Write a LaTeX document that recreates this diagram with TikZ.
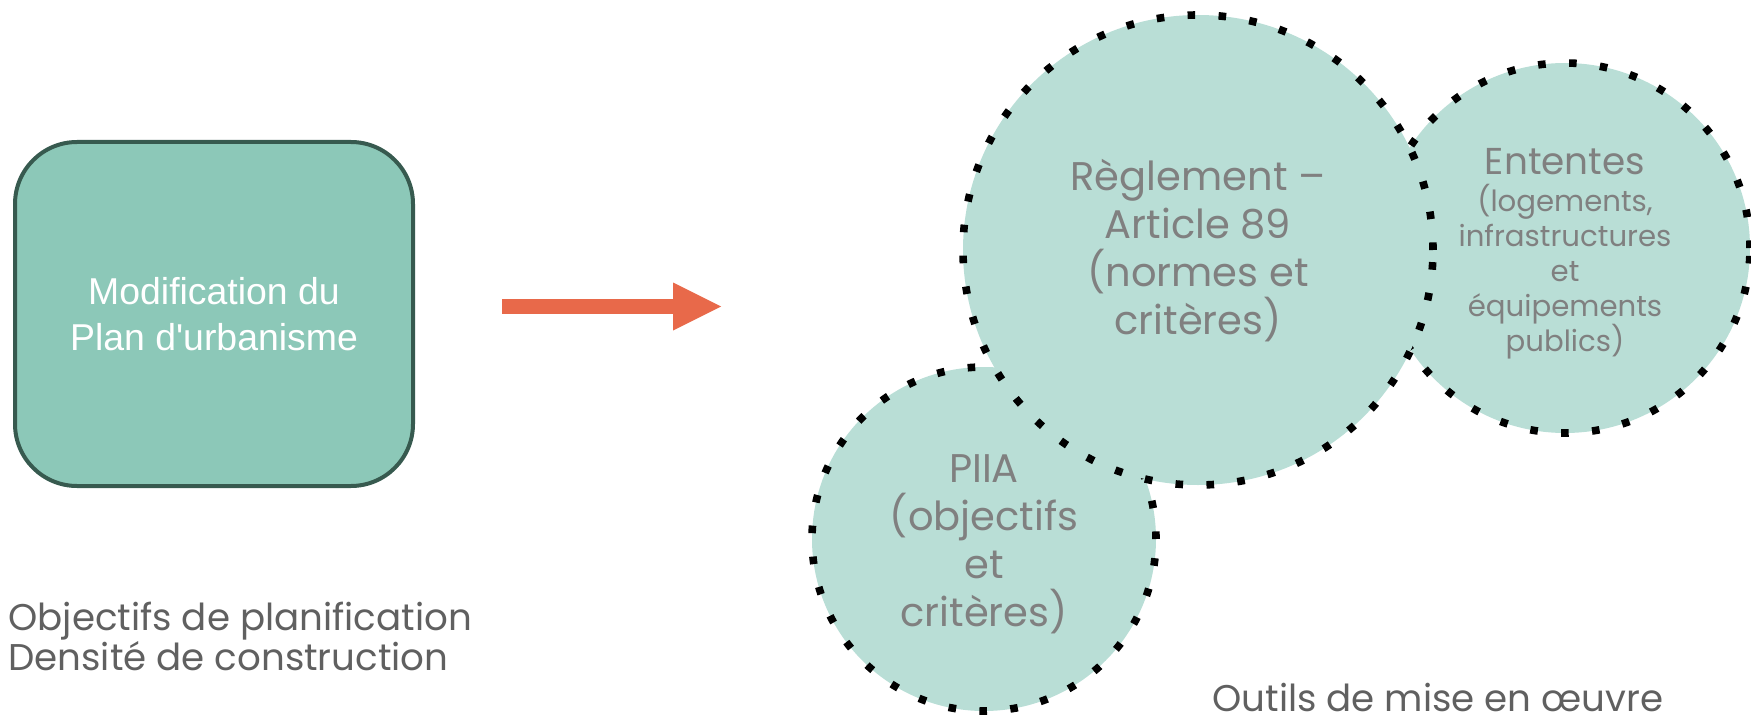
\documentclass[tikz,border=0pt]{standalone}
\usepackage{fontspec}
\newfontfamily\popfont{Poppins}
\newfontfamily\arialfont{Liberation Sans}
\usetikzlibrary{arrows.meta}
\definecolor{boxfill}{HTML}{8CC8B8}
\definecolor{boxline}{HTML}{375A4F}
\definecolor{circfill}{HTML}{B9DED6}
\definecolor{circtext}{HTML}{808080}
\definecolor{captext}{HTML}{606060}
\definecolor{arrowcol}{HTML}{E8694A}
\begin{document}
\begin{tikzpicture}[x=0.5pt,y=-0.5pt,
  planbox/.style={draw=boxline, fill=boxfill, line width=2pt, rounded corners=31pt,
    minimum width=199pt, minimum height=172pt, align=center, text=white,
    font=\arialfont\fontsize{18.7}{23}\selectfont},
  tool/.style={circle, fill=circfill, draw=black, line width=3.8pt,
    dash pattern=on 3.8pt off 11.7pt, inner sep=0pt, align=center, text=circtext,
    font=\popfont\fontsize{20}{24}\selectfont},
  tooltext/.style={align=center, text=circtext, inner sep=0pt,
    font=\popfont\fontsize{20}{24}\selectfont},
  smalltxt/.style={font=\popfont\fontsize{14.6}{17.5}\selectfont},
  caption/.style={align=left, text=captext, inner sep=0pt,
    font=\popfont\fontsize{18.6}{20}\selectfont},
  flow/.style={line width=7.5pt, draw=arrowcol, -{Triangle[length=24pt,width=24pt,line width=0pt]}}
]
\useasboundingbox (0,0) rectangle (1751,722);

\node[planbox] (plan) at (214,314) {Modification du\\Plan d'urbanisme};

\coordinate (arrs) at (502,306.5);
\coordinate (arre) at (721,306.5);
\draw[flow] (arrs) -- (arre);

\node[tool, minimum size=185pt] (ent) at (1565,248) {};
\node[tooltext, smalltxt] (enttxt) at (1565,254)
  {{\fontsize{18.7}{24}\selectfont Ententes}\\[1pt](logements,\\infrastructures\\et\\équipements\\publics)};
\node[tool, minimum size=172pt] (piia) at (984,539) {};
\node[tooltext] (piiatxt) at (984,544) {PIIA\\(objectifs\\et\\critères)};
\node[tool, minimum size=235pt] (regl) at (1198,250) {};
\node[tooltext] (regltxt) at (1198,251) {Règlement –\\Article 89\\(normes et\\critères)};

\node[caption, anchor=base west] (cap1) at (8,670)
  {Objectifs de planification\\Densité de construction};
\node[caption, anchor=base west] (cap2) at (1212,711)
  {Outils de mise en œuvre};
\end{tikzpicture}
\end{document}
